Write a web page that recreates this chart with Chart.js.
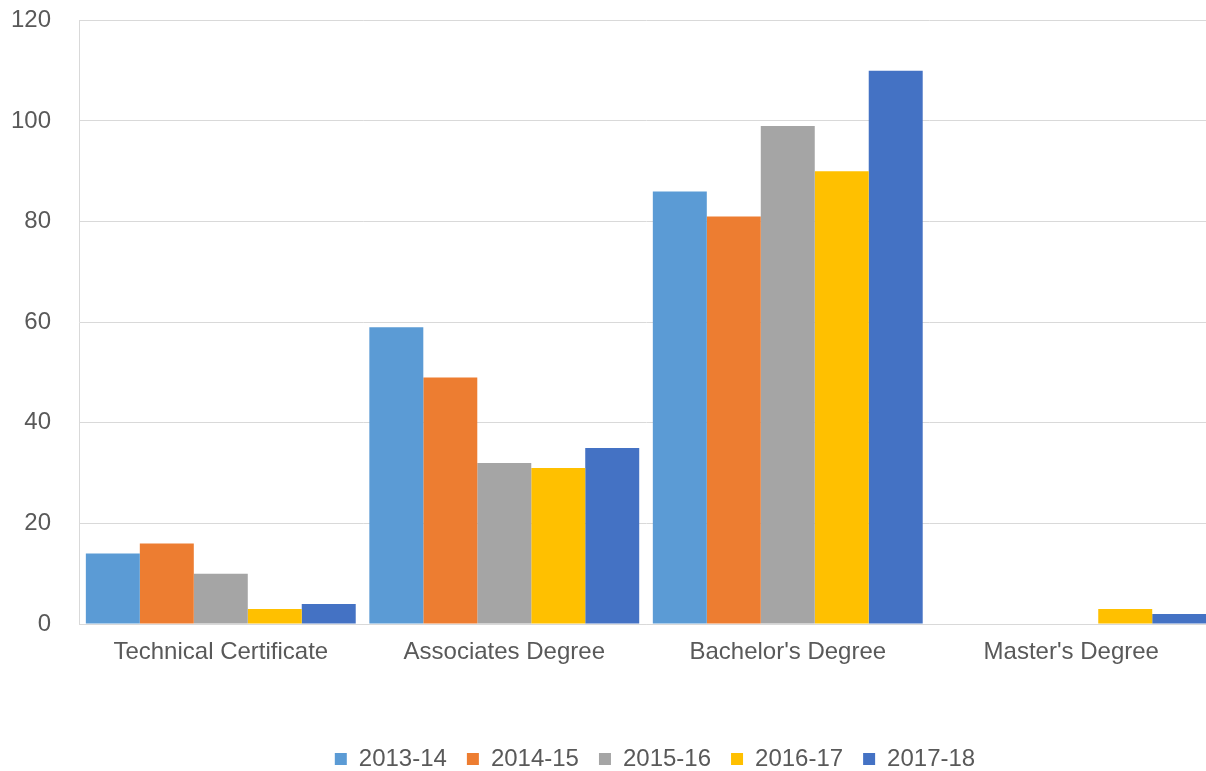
<!DOCTYPE html>
<html>
<head>
<meta charset="utf-8">
<script src="https://cdn.jsdelivr.net/npm/chart.js@4.4.1/dist/chart.umd.min.js"></script>
<style>
html,body{margin:0;padding:0;background:#fff;overflow:hidden;}
#wrap{width:1206px;height:771px;position:relative;overflow:hidden;}
</style>
</head>
<body>
<div id="wrap"><canvas id="c" width="1213" height="771"></canvas></div>
<script>
const categories = ["Technical Certificate", "Associates Degree", "Bachelor's Degree", "Master's Degree"];
const seriesNames = ["2013-14", "2014-15", "2015-16", "2016-17", "2017-18"];
const s2013 = [14, 59, 86, 0];
const s2014 = [16, 49, 81, 0];
const s2015 = [10, 32, 99, 0];
const s2016 = [3, 31, 90, 3];
const s2017 = [4, 35, 110, 2];
const yTicks = [0, 20, 40, 60, 80, 100, 120];

const colors = ["#5B9BD5", "#ED7D31", "#A5A5A5", "#FFC000", "#4472C4"];
const allSeries = [s2013, s2014, s2015, s2016, s2017];

Chart.defaults.font.family = "'Liberation Sans', Arial, sans-serif";
Chart.defaults.color = "#595959";

const TARGET_BOTTOM = 624;

const legendShift = {
  id: 'legendShift',
  afterLayout(chart) {
    const lg = chart.legend;
    if (!lg) return;
    lg.left += 46; lg.right += 46;
    lg.top += 10; lg.bottom += 10;
  }
};

new Chart(document.getElementById('c'), {
  type: 'bar',
  data: {
    labels: categories,
    datasets: allSeries.map((d, i) => ({
      label: seriesNames[i],
      data: d,
      backgroundColor: colors[i],
      borderWidth: 0,
      barPercentage: 1.0,
      categoryPercentage: 0.952
    }))
  },
  plugins: [legendShift],
  options: {
    responsive: false,
    animation: false,
    devicePixelRatio: 1,
    layout: { padding: { top: 0, right: 0, left: 5, bottom: 0 } },
    plugins: {
      title: { display: false },
      tooltip: { enabled: false },
      legend: {
        position: 'bottom',
        labels: {
          boxWidth: 12,
          boxHeight: 12,
          padding: 20,
          font: { size: 24 },
          color: '#595959'
        }
      }
    },
    scales: {
      x: {
        grid: { display: false, drawTicks: false },
        border: { color: '#D9D9D9', width: 1 },
        ticks: { font: { size: 24 }, color: '#595959', padding: 14 },
        afterFit: (scale) => {
          const ch = scale.chart;
          const lh = ch.legend ? ch.legend.height : 0;
          scale.height = 771 - TARGET_BOTTOM - lh;
        }
      },
      y: {
        min: 0,
        max: 120,
        afterBuildTicks: (scale) => { scale.ticks = yTicks.map(v => ({ value: v })); },
        grid: { color: '#D9D9D9', drawTicks: true, tickLength: 22, tickColor: 'rgba(0,0,0,0)', lineWidth: 1 },
        border: { color: '#D9D9D9', width: 1 },
        ticks: { font: { size: 24 }, color: '#595959', padding: 6 }
      }
    }
  }
});
</script>
</body>
</html>
